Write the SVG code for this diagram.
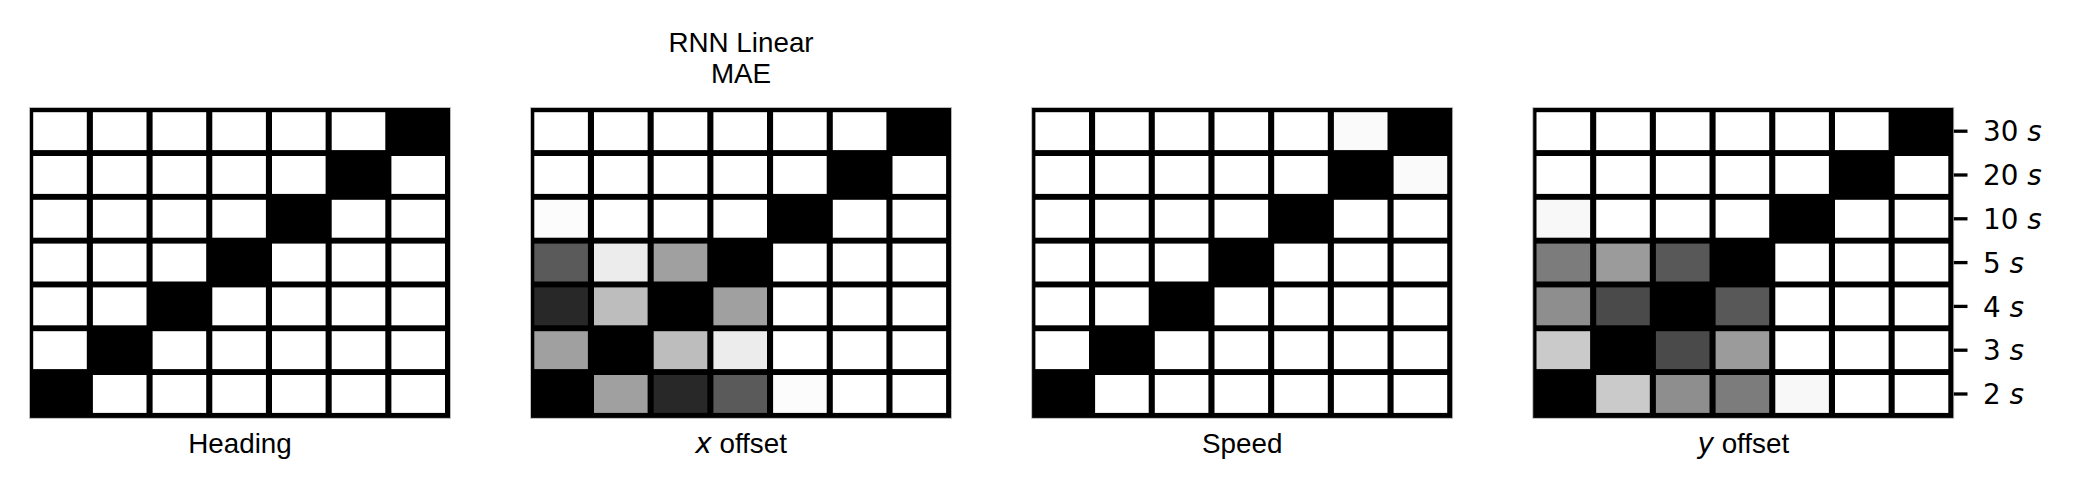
<svg xmlns="http://www.w3.org/2000/svg" width="2073" height="495" viewBox="0 0 2073 495">
<style>
.bg{fill:#000;stroke:#c8c8c8;stroke-width:0.8}
.w{fill:#fff}.b{fill:#000}
.lbl{font-family:"Liberation Sans",Arial,sans-serif;font-size:27.8px;fill:#000;text-anchor:middle}
.it{font-family:"DejaVu Sans",sans-serif;font-style:italic}
.tk{font-family:"DejaVu Sans",sans-serif;font-size:27.8px;fill:#000}
.tick{stroke:#000;stroke-width:3.3}
</style>
<rect width="2073" height="495" fill="#fff"/>
<defs>
<g id="row">
<rect x="3.7" y="0" width="53.6" height="37.9"/>
</g>
</defs>

<g id="title">
<text class="lbl" x="741" y="52.3">RNN Linear</text>
<text class="lbl" x="741" y="83.3">MAE</text>
</g>

<g id="panel-heading" transform="translate(29.5,0)">
<rect class="bg" x="0" y="107.5" width="421" height="310.8"/>
<rect class="w" x="3.7" y="112.2" width="53.6" height="37.9"/><rect class="w" x="63.4" y="112.2" width="53.6" height="37.9"/><rect class="w" x="123.1" y="112.2" width="53.6" height="37.9"/><rect class="w" x="182.8" y="112.2" width="53.6" height="37.9"/><rect class="w" x="242.5" y="112.2" width="53.6" height="37.9"/><rect class="w" x="302.2" y="112.2" width="53.6" height="37.9"/><rect class="b" x="361.9" y="112.2" width="53.6" height="37.9"/>
<rect class="w" x="3.7" y="156" width="53.6" height="37.9"/><rect class="w" x="63.4" y="156" width="53.6" height="37.9"/><rect class="w" x="123.1" y="156" width="53.6" height="37.9"/><rect class="w" x="182.8" y="156" width="53.6" height="37.9"/><rect class="w" x="242.5" y="156" width="53.6" height="37.9"/><rect class="b" x="302.2" y="156" width="53.6" height="37.9"/><rect class="w" x="361.9" y="156" width="53.6" height="37.9"/>
<rect class="w" x="3.7" y="199.8" width="53.6" height="37.9"/><rect class="w" x="63.4" y="199.8" width="53.6" height="37.9"/><rect class="w" x="123.1" y="199.8" width="53.6" height="37.9"/><rect class="w" x="182.8" y="199.8" width="53.6" height="37.9"/><rect class="b" x="242.5" y="199.8" width="53.6" height="37.9"/><rect class="w" x="302.2" y="199.8" width="53.6" height="37.9"/><rect class="w" x="361.9" y="199.8" width="53.6" height="37.9"/>
<rect class="w" x="3.7" y="243.6" width="53.6" height="37.9"/><rect class="w" x="63.4" y="243.6" width="53.6" height="37.9"/><rect class="w" x="123.1" y="243.6" width="53.6" height="37.9"/><rect class="b" x="182.8" y="243.6" width="53.6" height="37.9"/><rect class="w" x="242.5" y="243.6" width="53.6" height="37.9"/><rect class="w" x="302.2" y="243.6" width="53.6" height="37.9"/><rect class="w" x="361.9" y="243.6" width="53.6" height="37.9"/>
<rect class="w" x="3.7" y="287.4" width="53.6" height="37.9"/><rect class="w" x="63.4" y="287.4" width="53.6" height="37.9"/><rect class="b" x="123.1" y="287.4" width="53.6" height="37.9"/><rect class="w" x="182.8" y="287.4" width="53.6" height="37.9"/><rect class="w" x="242.5" y="287.4" width="53.6" height="37.9"/><rect class="w" x="302.2" y="287.4" width="53.6" height="37.9"/><rect class="w" x="361.9" y="287.4" width="53.6" height="37.9"/>
<rect class="w" x="3.7" y="331.2" width="53.6" height="37.9"/><rect class="b" x="63.4" y="331.2" width="53.6" height="37.9"/><rect class="w" x="123.1" y="331.2" width="53.6" height="37.9"/><rect class="w" x="182.8" y="331.2" width="53.6" height="37.9"/><rect class="w" x="242.5" y="331.2" width="53.6" height="37.9"/><rect class="w" x="302.2" y="331.2" width="53.6" height="37.9"/><rect class="w" x="361.9" y="331.2" width="53.6" height="37.9"/>
<rect class="b" x="3.7" y="375" width="53.6" height="37.9"/><rect class="w" x="63.4" y="375" width="53.6" height="37.9"/><rect class="w" x="123.1" y="375" width="53.6" height="37.9"/><rect class="w" x="182.8" y="375" width="53.6" height="37.9"/><rect class="w" x="242.5" y="375" width="53.6" height="37.9"/><rect class="w" x="302.2" y="375" width="53.6" height="37.9"/><rect class="w" x="361.9" y="375" width="53.6" height="37.9"/>
<text class="lbl" x="210.5" y="453">Heading</text>
</g>

<g id="panel-xoffset" transform="translate(530.6,0)">
<rect class="bg" x="0" y="107.5" width="421" height="310.8"/>
<rect class="w" x="3.7" y="112.2" width="53.6" height="37.9"/><rect class="w" x="63.4" y="112.2" width="53.6" height="37.9"/><rect class="w" x="123.1" y="112.2" width="53.6" height="37.9"/><rect class="w" x="182.8" y="112.2" width="53.6" height="37.9"/><rect class="w" x="242.5" y="112.2" width="53.6" height="37.9"/><rect class="w" x="302.2" y="112.2" width="53.6" height="37.9"/><rect class="b" x="361.9" y="112.2" width="53.6" height="37.9"/>
<rect class="w" x="3.7" y="156" width="53.6" height="37.9"/><rect class="w" x="63.4" y="156" width="53.6" height="37.9"/><rect class="w" x="123.1" y="156" width="53.6" height="37.9"/><rect class="w" x="182.8" y="156" width="53.6" height="37.9"/><rect class="w" x="242.5" y="156" width="53.6" height="37.9"/><rect class="b" x="302.2" y="156" width="53.6" height="37.9"/><rect class="w" x="361.9" y="156" width="53.6" height="37.9"/>
<rect fill="#fcfcfc" x="3.7" y="199.8" width="53.6" height="37.9"/><rect class="w" x="63.4" y="199.8" width="53.6" height="37.9"/><rect class="w" x="123.1" y="199.8" width="53.6" height="37.9"/><rect class="w" x="182.8" y="199.8" width="53.6" height="37.9"/><rect class="b" x="242.5" y="199.8" width="53.6" height="37.9"/><rect class="w" x="302.2" y="199.8" width="53.6" height="37.9"/><rect class="w" x="361.9" y="199.8" width="53.6" height="37.9"/>
<rect fill="#5a5a5a" x="3.7" y="243.6" width="53.6" height="37.9"/><rect fill="#ececec" x="63.4" y="243.6" width="53.6" height="37.9"/><rect fill="#a0a0a0" x="123.1" y="243.6" width="53.6" height="37.9"/><rect class="b" x="182.8" y="243.6" width="53.6" height="37.9"/><rect class="w" x="242.5" y="243.6" width="53.6" height="37.9"/><rect class="w" x="302.2" y="243.6" width="53.6" height="37.9"/><rect class="w" x="361.9" y="243.6" width="53.6" height="37.9"/>
<rect fill="#282828" x="3.7" y="287.4" width="53.6" height="37.9"/><rect fill="#bdbdbd" x="63.4" y="287.4" width="53.6" height="37.9"/><rect class="b" x="123.1" y="287.4" width="53.6" height="37.9"/><rect fill="#a0a0a0" x="182.8" y="287.4" width="53.6" height="37.9"/><rect class="w" x="242.5" y="287.4" width="53.6" height="37.9"/><rect class="w" x="302.2" y="287.4" width="53.6" height="37.9"/><rect class="w" x="361.9" y="287.4" width="53.6" height="37.9"/>
<rect fill="#a0a0a0" x="3.7" y="331.2" width="53.6" height="37.9"/><rect class="b" x="63.4" y="331.2" width="53.6" height="37.9"/><rect fill="#bdbdbd" x="123.1" y="331.2" width="53.6" height="37.9"/><rect fill="#ececec" x="182.8" y="331.2" width="53.6" height="37.9"/><rect class="w" x="242.5" y="331.2" width="53.6" height="37.9"/><rect class="w" x="302.2" y="331.2" width="53.6" height="37.9"/><rect class="w" x="361.9" y="331.2" width="53.6" height="37.9"/>
<rect class="b" x="3.7" y="375" width="53.6" height="37.9"/><rect fill="#a0a0a0" x="63.4" y="375" width="53.6" height="37.9"/><rect fill="#282828" x="123.1" y="375" width="53.6" height="37.9"/><rect fill="#5a5a5a" x="182.8" y="375" width="53.6" height="37.9"/><rect fill="#fcfcfc" x="242.5" y="375" width="53.6" height="37.9"/><rect class="w" x="302.2" y="375" width="53.6" height="37.9"/><rect class="w" x="361.9" y="375" width="53.6" height="37.9"/>
<text class="lbl" x="210.5" y="453"><tspan class="it">x</tspan> offset</text>
</g>

<g id="panel-speed" transform="translate(1031.7,0)">
<rect class="bg" x="0" y="107.5" width="421" height="310.8"/>
<rect class="w" x="3.7" y="112.2" width="53.6" height="37.9"/><rect class="w" x="63.4" y="112.2" width="53.6" height="37.9"/><rect class="w" x="123.1" y="112.2" width="53.6" height="37.9"/><rect class="w" x="182.8" y="112.2" width="53.6" height="37.9"/><rect class="w" x="242.5" y="112.2" width="53.6" height="37.9"/><rect fill="#fafafa" x="302.2" y="112.2" width="53.6" height="37.9"/><rect class="b" x="361.9" y="112.2" width="53.6" height="37.9"/>
<rect class="w" x="3.7" y="156" width="53.6" height="37.9"/><rect class="w" x="63.4" y="156" width="53.6" height="37.9"/><rect class="w" x="123.1" y="156" width="53.6" height="37.9"/><rect class="w" x="182.8" y="156" width="53.6" height="37.9"/><rect class="w" x="242.5" y="156" width="53.6" height="37.9"/><rect class="b" x="302.2" y="156" width="53.6" height="37.9"/><rect fill="#fafafa" x="361.9" y="156" width="53.6" height="37.9"/>
<rect class="w" x="3.7" y="199.8" width="53.6" height="37.9"/><rect class="w" x="63.4" y="199.8" width="53.6" height="37.9"/><rect class="w" x="123.1" y="199.8" width="53.6" height="37.9"/><rect class="w" x="182.8" y="199.8" width="53.6" height="37.9"/><rect class="b" x="242.5" y="199.8" width="53.6" height="37.9"/><rect class="w" x="302.2" y="199.8" width="53.6" height="37.9"/><rect class="w" x="361.9" y="199.8" width="53.6" height="37.9"/>
<rect class="w" x="3.7" y="243.6" width="53.6" height="37.9"/><rect class="w" x="63.4" y="243.6" width="53.6" height="37.9"/><rect class="w" x="123.1" y="243.6" width="53.6" height="37.9"/><rect class="b" x="182.8" y="243.6" width="53.6" height="37.9"/><rect class="w" x="242.5" y="243.6" width="53.6" height="37.9"/><rect class="w" x="302.2" y="243.6" width="53.6" height="37.9"/><rect class="w" x="361.9" y="243.6" width="53.6" height="37.9"/>
<rect class="w" x="3.7" y="287.4" width="53.6" height="37.9"/><rect class="w" x="63.4" y="287.4" width="53.6" height="37.9"/><rect class="b" x="123.1" y="287.4" width="53.6" height="37.9"/><rect class="w" x="182.8" y="287.4" width="53.6" height="37.9"/><rect class="w" x="242.5" y="287.4" width="53.6" height="37.9"/><rect class="w" x="302.2" y="287.4" width="53.6" height="37.9"/><rect class="w" x="361.9" y="287.4" width="53.6" height="37.9"/>
<rect class="w" x="3.7" y="331.2" width="53.6" height="37.9"/><rect class="b" x="63.4" y="331.2" width="53.6" height="37.9"/><rect class="w" x="123.1" y="331.2" width="53.6" height="37.9"/><rect class="w" x="182.8" y="331.2" width="53.6" height="37.9"/><rect class="w" x="242.5" y="331.2" width="53.6" height="37.9"/><rect class="w" x="302.2" y="331.2" width="53.6" height="37.9"/><rect class="w" x="361.9" y="331.2" width="53.6" height="37.9"/>
<rect class="b" x="3.7" y="375" width="53.6" height="37.9"/><rect class="w" x="63.4" y="375" width="53.6" height="37.9"/><rect class="w" x="123.1" y="375" width="53.6" height="37.9"/><rect class="w" x="182.8" y="375" width="53.6" height="37.9"/><rect class="w" x="242.5" y="375" width="53.6" height="37.9"/><rect class="w" x="302.2" y="375" width="53.6" height="37.9"/><rect class="w" x="361.9" y="375" width="53.6" height="37.9"/>
<text class="lbl" x="210.5" y="453">Speed</text>
</g>

<g id="panel-yoffset" transform="translate(1532.8,0)">
<rect class="bg" x="0" y="107.5" width="421" height="310.8"/>
<rect class="w" x="3.7" y="112.2" width="53.6" height="37.9"/><rect class="w" x="63.4" y="112.2" width="53.6" height="37.9"/><rect class="w" x="123.1" y="112.2" width="53.6" height="37.9"/><rect class="w" x="182.8" y="112.2" width="53.6" height="37.9"/><rect class="w" x="242.5" y="112.2" width="53.6" height="37.9"/><rect class="w" x="302.2" y="112.2" width="53.6" height="37.9"/><rect class="b" x="361.9" y="112.2" width="53.6" height="37.9"/>
<rect class="w" x="3.7" y="156" width="53.6" height="37.9"/><rect class="w" x="63.4" y="156" width="53.6" height="37.9"/><rect class="w" x="123.1" y="156" width="53.6" height="37.9"/><rect class="w" x="182.8" y="156" width="53.6" height="37.9"/><rect class="w" x="242.5" y="156" width="53.6" height="37.9"/><rect class="b" x="302.2" y="156" width="53.6" height="37.9"/><rect class="w" x="361.9" y="156" width="53.6" height="37.9"/>
<rect fill="#f8f8f8" x="3.7" y="199.8" width="53.6" height="37.9"/><rect class="w" x="63.4" y="199.8" width="53.6" height="37.9"/><rect class="w" x="123.1" y="199.8" width="53.6" height="37.9"/><rect class="w" x="182.8" y="199.8" width="53.6" height="37.9"/><rect class="b" x="242.5" y="199.8" width="53.6" height="37.9"/><rect class="w" x="302.2" y="199.8" width="53.6" height="37.9"/><rect class="w" x="361.9" y="199.8" width="53.6" height="37.9"/>
<rect fill="#7c7c7c" x="3.7" y="243.6" width="53.6" height="37.9"/><rect fill="#9b9b9b" x="63.4" y="243.6" width="53.6" height="37.9"/><rect fill="#585858" x="123.1" y="243.6" width="53.6" height="37.9"/><rect class="b" x="182.8" y="243.6" width="53.6" height="37.9"/><rect class="w" x="242.5" y="243.6" width="53.6" height="37.9"/><rect class="w" x="302.2" y="243.6" width="53.6" height="37.9"/><rect class="w" x="361.9" y="243.6" width="53.6" height="37.9"/>
<rect fill="#8e8e8e" x="3.7" y="287.4" width="53.6" height="37.9"/><rect fill="#4a4a4a" x="63.4" y="287.4" width="53.6" height="37.9"/><rect class="b" x="123.1" y="287.4" width="53.6" height="37.9"/><rect fill="#585858" x="182.8" y="287.4" width="53.6" height="37.9"/><rect class="w" x="242.5" y="287.4" width="53.6" height="37.9"/><rect class="w" x="302.2" y="287.4" width="53.6" height="37.9"/><rect class="w" x="361.9" y="287.4" width="53.6" height="37.9"/>
<rect fill="#cacaca" x="3.7" y="331.2" width="53.6" height="37.9"/><rect class="b" x="63.4" y="331.2" width="53.6" height="37.9"/><rect fill="#4a4a4a" x="123.1" y="331.2" width="53.6" height="37.9"/><rect fill="#9b9b9b" x="182.8" y="331.2" width="53.6" height="37.9"/><rect class="w" x="242.5" y="331.2" width="53.6" height="37.9"/><rect class="w" x="302.2" y="331.2" width="53.6" height="37.9"/><rect class="w" x="361.9" y="331.2" width="53.6" height="37.9"/>
<rect class="b" x="3.7" y="375" width="53.6" height="37.9"/><rect fill="#cacaca" x="63.4" y="375" width="53.6" height="37.9"/><rect fill="#8e8e8e" x="123.1" y="375" width="53.6" height="37.9"/><rect fill="#7c7c7c" x="182.8" y="375" width="53.6" height="37.9"/><rect fill="#f8f8f8" x="242.5" y="375" width="53.6" height="37.9"/><rect class="w" x="302.2" y="375" width="53.6" height="37.9"/><rect class="w" x="361.9" y="375" width="53.6" height="37.9"/>
<text class="lbl" x="210.5" y="453"><tspan class="it">y</tspan> offset</text>
</g>

<g id="y-axis">
<line class="tick" x1="1953.8" y1="131.2" x2="1967.5" y2="131.2"/>
<line class="tick" x1="1953.8" y1="175" x2="1967.5" y2="175"/>
<line class="tick" x1="1953.8" y1="218.8" x2="1967.5" y2="218.8"/>
<line class="tick" x1="1953.8" y1="262.6" x2="1967.5" y2="262.6"/>
<line class="tick" x1="1953.8" y1="306.4" x2="1967.5" y2="306.4"/>
<line class="tick" x1="1953.8" y1="350.2" x2="1967.5" y2="350.2"/>
<line class="tick" x1="1953.8" y1="394" x2="1967.5" y2="394"/>
<text class="tk" x="1983" y="141.3">30 <tspan font-style="italic">s</tspan></text>
<text class="tk" x="1983" y="185.1">20 <tspan font-style="italic">s</tspan></text>
<text class="tk" x="1983" y="228.9">10 <tspan font-style="italic">s</tspan></text>
<text class="tk" x="1983" y="272.7">5 <tspan font-style="italic">s</tspan></text>
<text class="tk" x="1983" y="316.5">4 <tspan font-style="italic">s</tspan></text>
<text class="tk" x="1983" y="360.3">3 <tspan font-style="italic">s</tspan></text>
<text class="tk" x="1983" y="404.1">2 <tspan font-style="italic">s</tspan></text>
</g>
</svg>
